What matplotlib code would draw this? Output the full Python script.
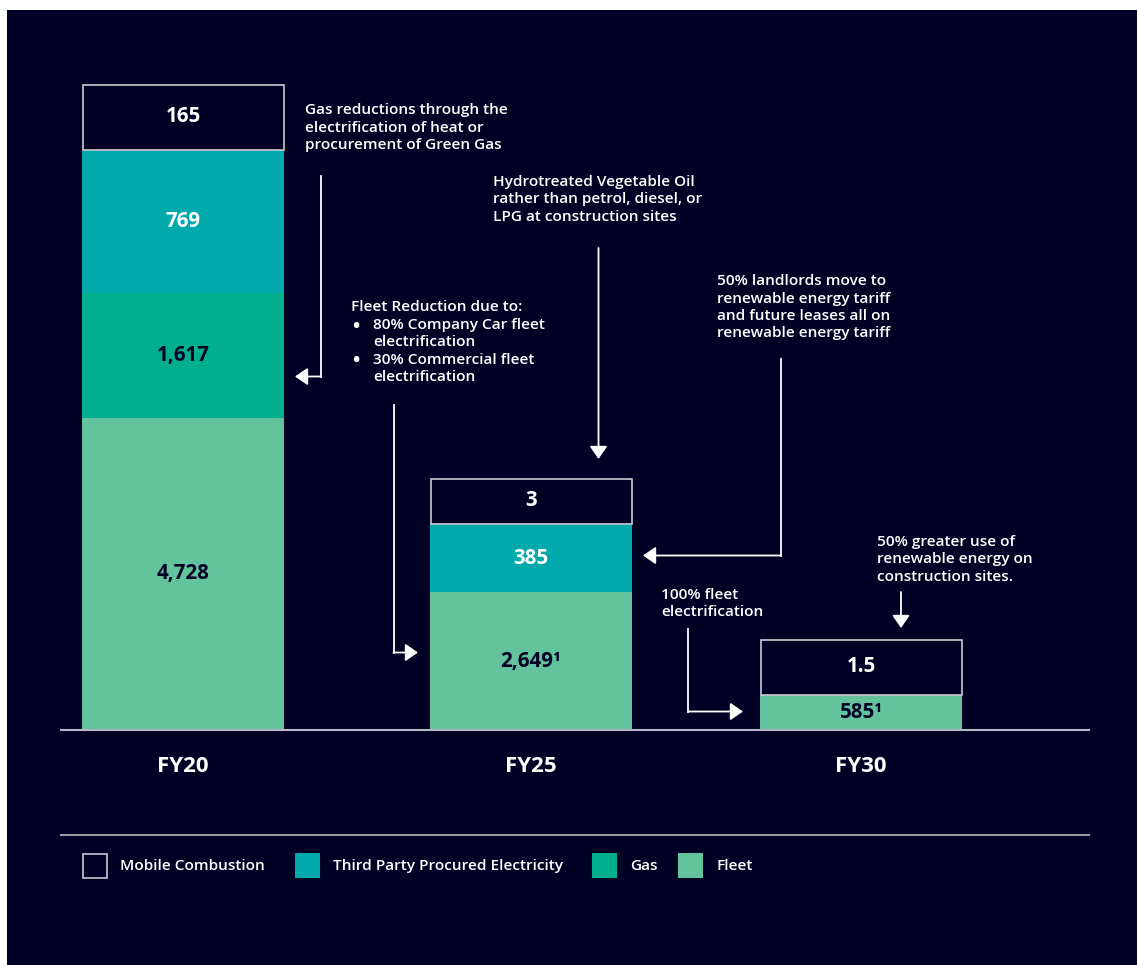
import matplotlib
matplotlib.use("Agg")
import matplotlib.pyplot as plt
from matplotlib.patches import Rectangle

# ---------------- data ----------------
years = ["FY20", "FY25", "FY30"]
series = ["Fleet", "Gas", "Third Party Procured Electricity", "Mobile Combustion"]
# reported values (tCO2e) shown as labels
value_labels = {
    "Fleet": ["4,728", "2,649\u00b9", "585\u00b9"],
    "Gas": ["1,617", None, None],
    "Third Party Procured Electricity": ["769", "385", None],
    "Mobile Combustion": ["165", "3", "1.5"],
}
# drawn (schematic) segment heights as shown in the infographic
drawn_heights = {
    "Fleet": [312, 138, 35],
    "Gas": [125, 0, 0],
    "Third Party Procured Electricity": [143, 68, 0],
    "Mobile Combustion": [66, 46, 56],
}
legend_order = ["Mobile Combustion", "Third Party Procured Electricity", "Gas", "Fleet"]

BG = "#000025"
colors = {
    "Fleet": "#62C39D",
    "Gas": "#00AF8E",
    "Third Party Procured Electricity": "#00A9AC",
    "Mobile Combustion": BG,
}
label_colors = {
    "Fleet": BG,
    "Gas": BG,
    "Third Party Procured Electricity": "white",
    "Mobile Combustion": "white",
}
EDGE = "#c9c9d3"
LINE = "#b8b8c4"

plt.rcParams["font.family"] = ["Open Sans", "DejaVu Sans"]

W, H = 1137, 965
BASE = 730  # pixel row of the baseline
fig = plt.figure(figsize=(W / 100, H / 100), dpi=100, facecolor="white")
ax = fig.add_axes([0, 0, 1, 1])
ax.set_xlim(0, W)
ax.set_ylim(BASE - H, BASE)
ax.axis("off")


def Y(py):
    return BASE - py


# background panel
ax.add_patch(Rectangle((7, Y(H)), W - 7, H - 10, facecolor=BG, edgecolor="none", zorder=0))

# ---------------- bars ----------------
centers = [183, 531, 861]
bar_w = 202
bottoms = [0, 0, 0]
for s in series:
    hs = drawn_heights[s]
    for i, h in enumerate(hs):
        if h <= 0:
            continue
        if s == "Mobile Combustion":
            ax.bar(centers[i], h - 1, bottom=bottoms[i] + 0.5, width=bar_w - 1, color=colors[s],
                   edgecolor=EDGE, linewidth=1.2, zorder=3)
        else:
            ax.bar(centers[i], h, bottom=bottoms[i], width=bar_w, color=colors[s],
                   edgecolor="none", zorder=3)
        lab = value_labels[s][i]
        if lab:
            ax.text(centers[i], bottoms[i] + h / 2, lab, ha="center", va="center",
                    fontsize=14.8, fontweight="bold", color=label_colors[s], zorder=5)
        bottoms[i] += h

# baseline + year labels
ax.plot([60, 1090], [0, 0], color=LINE, lw=1.5, zorder=4, solid_capstyle="butt")
for c, yr in zip(centers, years):
    ax.text(c, Y(767), yr, ha="center", va="center", fontsize=16, fontweight="bold",
            color="white")

# separator line
ax.plot([60, 1090], [Y(835), Y(835)], color=LINE, lw=1.2, solid_capstyle="butt")

# ---------------- legend ----------------
leg_x = [82, 295, 592, 678]
for s, lx in zip(legend_order, leg_x):
    if s == "Mobile Combustion":
        ax.add_patch(Rectangle((lx + 0.5, Y(877.5)), 24, 24, facecolor=BG, edgecolor=EDGE, lw=1.2))
    else:
        ax.add_patch(Rectangle((lx, Y(878)), 25, 25, facecolor=colors[s], edgecolor="none"))
    ax.text(lx + 38, Y(866), s, ha="left", va="center", fontsize=11.1, fontweight="semibold",
            color="white")

# ---------------- annotations ----------------
ANN = dict(ha="left", va="center", fontsize=11.1, fontweight="semibold", color="white",
           linespacing=1.2)
LS = 17.5


def lines(x, y0, txts):
    for k, t in enumerate(txts):
        ax.text(x, Y(y0 + k * LS), t, **ANN)


lines(305, 110, ["Gas reductions through the", "electrification of heat or",
                 "procurement of Green Gas"])
lines(493, 182, ["Hydrotreated Vegetable Oil", "rather than petrol, diesel, or",
                 "LPG at construction sites"])
lines(717, 281, ["50% landlords move to", "renewable energy tariff",
                 "and future leases all on", "renewable energy tariff"])
lines(351, 307, ["Fleet Reduction due to:"])
lines(373, 324.5, ["80% Company Car fleet", "electrification",
                   "30% Commercial fleet", "electrification"])
BUL = dict(ANN, fontsize=14, fontweight="bold")
ax.text(352, Y(326.5), "\u2022", **BUL)
ax.text(352, Y(361.5), "\u2022", **BUL)
lines(661, 595, ["100% fleet", "electrification"])
lines(877, 542, ["50% greater use of", "renewable energy on", "construction sites."])


def arrow(pts):
    xs = [p[0] for p in pts[:-1]]
    ys = [Y(p[1]) for p in pts[:-1]]
    ax.plot(xs, ys, color="white", lw=1.3, solid_joinstyle="miter", zorder=6)
    ax.annotate("", xy=(pts[-1][0], Y(pts[-1][1])), xytext=(pts[-2][0], Y(pts[-2][1])),
                arrowprops=dict(arrowstyle="-|>,head_length=0.55,head_width=0.38",
                                color="white", lw=1.3, shrinkA=0, shrinkB=0,
                                mutation_scale=14), zorder=6)


arrow([(320.5, 176), (320.5, 376.5), (295, 376.5)])
arrow([(598.5, 248), (598.5, 459)])
arrow([(780.5, 359), (780.5, 555.5), (643, 555.5)])
arrow([(393.5, 405), (393.5, 652.5), (418, 652.5)])
arrow([(688, 629), (688, 711.5), (743, 711.5)])
arrow([(901, 592), (901, 628)])

fig.savefig("out.png", dpi=100, facecolor=fig.get_facecolor())
